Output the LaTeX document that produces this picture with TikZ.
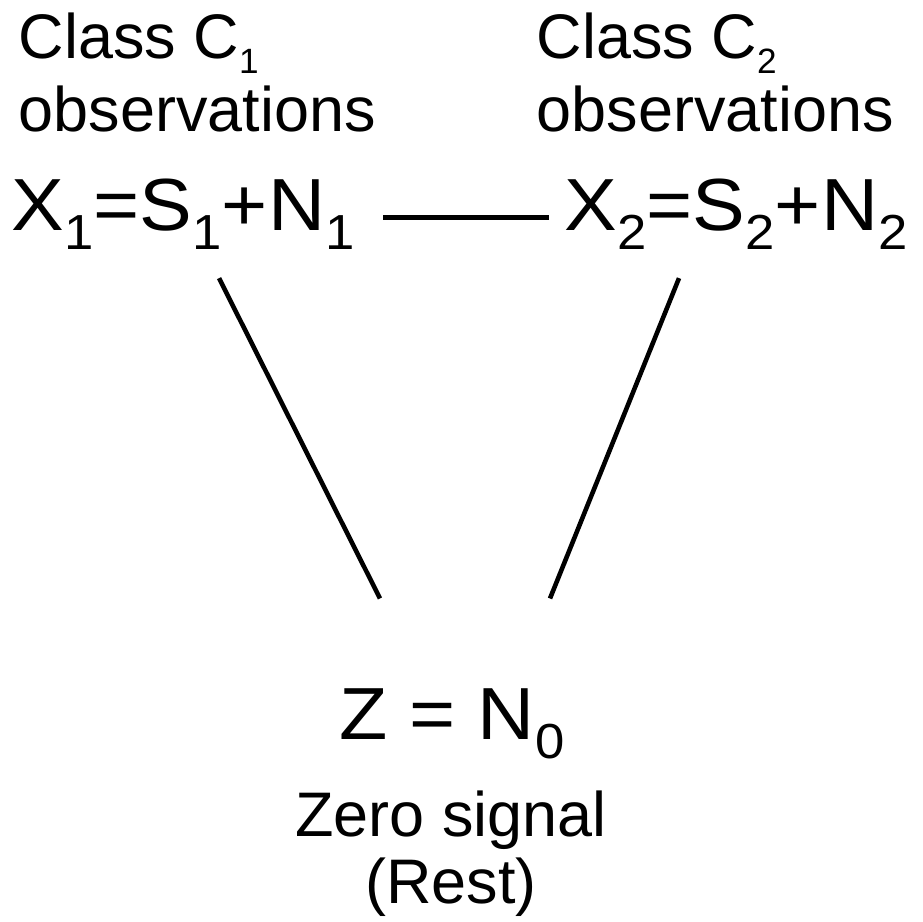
\documentclass[tikz,border=0pt]{standalone}
\usepackage{fontspec}
\setmainfont{Liberation Sans}
\newfontfamily\eqnfont[FakeStretch=1.07]{Liberation Sans}
\usetikzlibrary{positioning,calc}

% lowered indices, small for class labels, two thirds in the formulas
\newcommand{\csub}[1]{\raisebox{-0.24em}{\fontsize{10}{10}\selectfont #1}}
\newcommand{\xsub}[1]{\raisebox{-0.25em}{\fontsize{14}{14}\selectfont #1}}

\tikzset{
    lbl/.style={inner sep=0pt, font=\fontsize{17.9}{21}\selectfont},
    eqn/.style={inner sep=0pt, font=\eqnfont\fontsize{21}{24}\selectfont},
    link/.style={line width=1.3pt}
}

\begin{document}
\begin{tikzpicture}[x=0.01cm, y=-0.01cm]
    \useasboundingbox (0,0) rectangle (923,922);

    % class labels
    \node[lbl, align=left, anchor=base west] (c1) at (18,132) {Class C\csub{1}\\observations};
    \node[lbl, align=left, anchor=base west] (c2) at (536,132) {Class C\csub{2}\\observations};

    % observations
    \node[eqn, anchor=base west] (x1) at (11,231) {X\xsub{1}=S\xsub{1}+N\xsub{1}};
    \node[eqn, anchor=base west] (x2) at (564,231) {X\xsub{2}=S\xsub{2}+N\xsub{2}};

    % rest state
    \node[eqn, anchor=base] (z) at (452,740) {Z = N\xsub{0}};
    \node[lbl, align=center, anchor=base, font=\fontsize{17.9}{19.3}\selectfont] (zlab) at (451,904) {Zero signal\\(Rest)};

    \draw[link] ($(x1.east)+(28,3)$) -- ($(x2.west)+(-15,3)$);
    \draw[link] ($(x1.south)+(36,28)$) -- ($(z.north)+(-72,-90)$);
    \draw[link] ($(x2.south)+(-57,28)$) -- ($(z.north)+(98,-90)$);
\end{tikzpicture}
\end{document}
